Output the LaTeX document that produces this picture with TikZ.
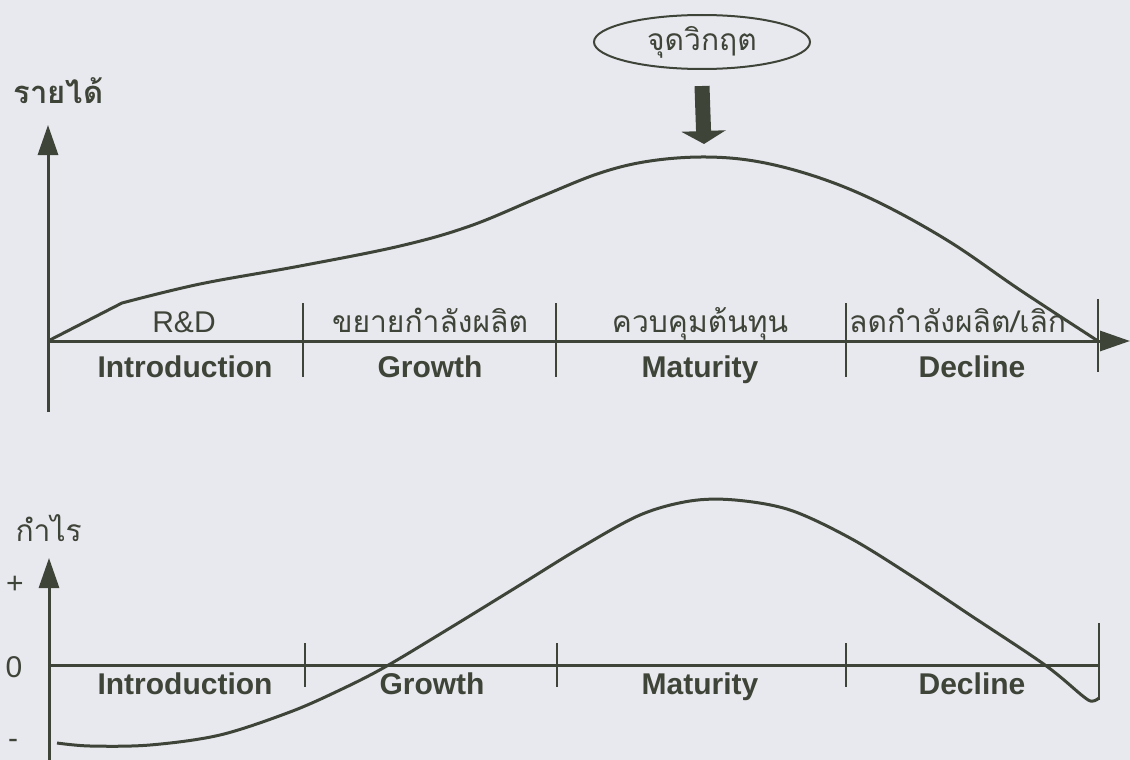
\documentclass[tikz,border=0pt]{standalone}
\usepackage{fontspec}
\setmainfont{Liberation Sans}
\newfontfamily\thaifont[Script=Thai]{Loma}
\usetikzlibrary{arrows.meta,shapes.geometric}
\definecolor{ink}{HTML}{3F4439}
\definecolor{paper}{HTML}{E8E9EE}

\begin{document}
\begin{tikzpicture}[x=1pt,y=-1pt,
  axis/.style={draw=ink,line width=3pt},
  curve/.style={draw=ink,line width=3pt,line join=round},
  tick/.style={draw=ink,line width=2pt},
  tip/.style={-{Triangle[length=30pt,width=20pt]}},
  phase/.style={text=ink,anchor=base,font=\bfseries\fontsize{30}{36}\selectfont},
  task/.style={text=ink,anchor=base,font=\thaifont\fontsize{30}{36}\selectfont},
  sign/.style={text=ink,font=\fontsize{30}{36}\selectfont}]

% the page
\fill[paper] (0,0) rectangle (1130,760);
\useasboundingbox (0,0) rectangle (1130,760);

% revenue axes
\draw[axis,tip] (48,412) -- (48,125);
\draw[axis,tip] (48,341) -- (1130,341);
\foreach \x in {303,556,846}
  \draw[tick] (\x,303) -- (\x,377);
\draw[tick] (1098,299) -- (1098,372);
\node[task,font=\thaifont\bfseries\fontsize{31}{36}\selectfont,anchor=base west] (revenue) at (10,103) {รายได้};

% revenue curve
\draw[curve] (48,341) -- plot[smooth,tension=0.6] coordinates {(122,303) (200,284) (300,266)
  (400,246) (470,226) (540,197) (600,173) (650,161) (706,157) (760,162) (820,178)
  (880,203) (950,242) (1020,290) (1098,341)};
\coordinate (peak) at (704,157);

% tasks and phases
\node[sign,anchor=base] (rd) at (184,332) {R\&D};
\node[task] (expand) at (430,332) {ขยายกำลังผลิต};
\node[task] (control) at (700,332) {ควบคุมต้นทุน};
\node[task,anchor=base west,inner sep=1pt] (reduce) at (848,332) {ลดกำลังผลิต/เลิก};
\node[phase] (intro1) at (185,377) {Introduction};
\node[phase] (growth1) at (430,377) {Growth};
\node[phase] (mature1) at (700,377) {Maturity};
\node[phase] (decline1) at (972,377) {Decline};

% the crisis point
\node[draw=ink,line width=2pt,ellipse,minimum width=216pt,minimum height=54pt,inner sep=0pt,
  task,anchor=center] (crisis) at (702,42) {จุดวิกฤต};
\draw[draw=ink,line width=15pt,-{Triangle[length=13pt,width=44pt]}]
  ([yshift=-16pt]crisis.south) -- ([yshift=13pt]peak);

% profit axes
\draw[axis,tip] (49,760) -- (49,558);
\draw[axis] (49,665) -- (1099,665);
\foreach \x in {305,557,846}
  \draw[tick] (\x,643) -- (\x,687);
\draw[tick] (1099,623) -- (1099,700);
\node[task,anchor=base west] (profit) at (12,541) {กำไร};
\node[sign] (plus) at (15,585) {+};
\node[sign] (zero) at (14,667) {0};
\node[sign] (minus) at (13,744) {-};

% profit curve
\draw[curve] plot[smooth,tension=0.55] coordinates {(57,743) (90,746) (150,745) (220,735)
  (290,712) (340,690) (385,667) (450,628) (520,585) (580,548) (640,515) (690,501)
  (735,500) (790,510) (850,538) (910,575) (970,615) (1045,665) (1084,697) (1093,701)
  (1099,698)};

% phases
\node[phase] (intro2) at (185,694) {Introduction};
\node[phase] (growth2) at (432,694) {Growth};
\node[phase] (mature2) at (700,694) {Maturity};
\node[phase] (decline2) at (972,694) {Decline};

\end{tikzpicture}
\end{document}
